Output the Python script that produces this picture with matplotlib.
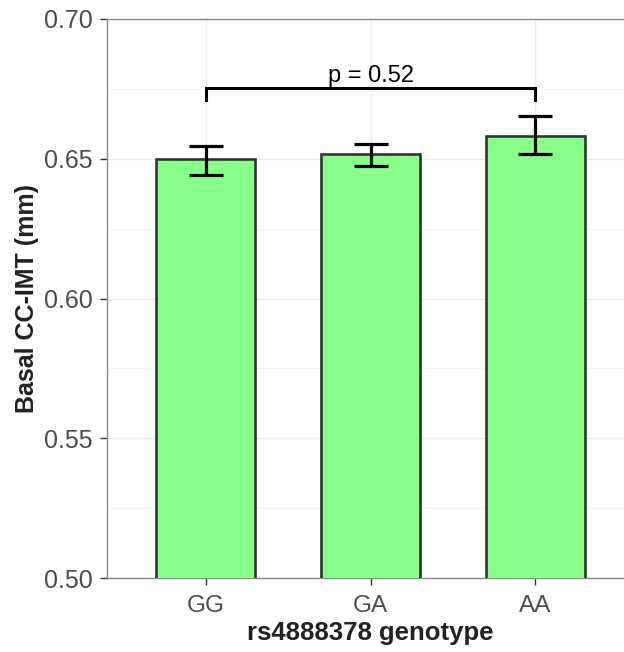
import numpy as np
import matplotlib
matplotlib.use('Agg')
from matplotlib import pyplot as plt

genotypes = ['GG', 'GA', 'AA']
mean_imt = [0.6498, 0.6517, 0.6583]
err_low = [0.6442, 0.6473, 0.6516]
err_high = [0.6547, 0.6552, 0.6654]
p_label = 'p = 0.52'
bracket_y = 0.6752
bracket_leg = 0.6710
p_text_y = 0.6776

plt.rcParams['font.family'] = ['Liberation Sans', 'DejaVu Sans']

fig = plt.figure(figsize=(6.24, 6.52), dpi=100)
ax = fig.add_axes([107 / 624, 74 / 652, 527 / 624, 559 / 652])

x = np.arange(1, len(genotypes) + 1)
mean = np.array(mean_imt)
yerr = np.vstack([mean - np.array(err_low), np.array(err_high) - mean])

ax.bar(x, mean, width=0.6, color='#88FF88', edgecolor='#333333', linewidth=1.9, zorder=3)
ax.errorbar(x, mean, yerr=yerr, fmt='none', ecolor='black', elinewidth=2.3,
            capsize=12, capthick=2.3, zorder=4)

# significance bracket between GG and AA
ax.plot([x[0], x[0], x[2], x[2]], [bracket_leg, bracket_y, bracket_y, bracket_leg],
        color='black', linewidth=2.2, zorder=5, solid_joinstyle='miter')
ax.text((x[0] + x[2]) / 2, p_text_y, p_label, ha='center', va='baseline',
        fontsize=17, color='black', zorder=6)

ax.set_xlim(0.4, 3.6)
ax.set_ylim(0.50, 0.70)
ax.set_xticks(x)
ax.set_xticklabels(genotypes)
ax.set_yticks([0.50, 0.55, 0.60, 0.65, 0.70])
ax.set_yticklabels(['0.50', '0.55', '0.60', '0.65', '0.70'])
ax.set_yticks([0.525, 0.575, 0.625, 0.675], minor=True)

ax.grid(True, which='major', color='#EBEBEB', linewidth=1.0, zorder=0)
ax.grid(True, which='minor', axis='y', color='#F4F4F4', linewidth=0.6, zorder=0)
ax.set_axisbelow(True)

for s in ax.spines.values():
    s.set_color('#8c8c8c')
    s.set_linewidth(1.0)

ax.tick_params(axis='both', which='major', labelcolor='#4D4D4D',
               color='#333333', length=5, width=1)
ax.tick_params(axis='x', labelsize=17.5, pad=7)
ax.tick_params(axis='y', labelsize=18, pad=5)
ax.tick_params(axis='y', which='minor', length=0)

ax.set_xlabel('rs4888378 genotype', fontsize=18.5, fontweight='bold', color='#222222', labelpad=3)
ax.set_ylabel('Basal CC-IMT (mm)', fontsize=18, fontweight='bold', color='#222222', labelpad=4)

fig.savefig('out.png', dpi=100)
